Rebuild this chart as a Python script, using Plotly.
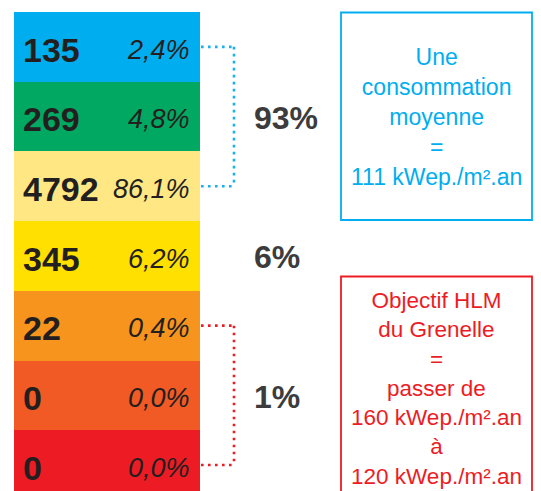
import plotly.graph_objects as go

# ---- data ----
classes = ["A", "B", "C", "D", "E", "F", "G"]
logements = [135, 269, 4792, 345, 22, 0, 0]
parts = [2.4, 4.8, 86.1, 6.2, 0.4, 0.0, 0.0]
group_labels = ["93%", "6%", "1%"]
group_first = [0, 3, 4]
group_last = [2, 3, 6]
box_blue_lines = ["Une", "consommation", "moyenne", "=", "111 kWep./m².an"]
box_red_lines = ["Objectif HLM", "du Grenelle", "=", "passer de",
                 "160 kWep./m².an", "à", "120 kWep./m².an"]

# ---- style ----
bar_colors = ["#00AEEF", "#00A862", "#FFE784", "#FFE000", "#F7941D", "#F15A24", "#ED1C24"]
bracket_colors = ["#1AB0EC", None, "#ED1C24"]
OFF = 8  # page body margin
W, H = 541 - OFF, 491 - OFF
FONT = "Liberation Sans, Arial, sans-serif"
DARK = "#231F20"


def px(x):
    return (x - OFF) / W


def py(y):
    return 1 - (y - OFF) / H


fig = go.Figure()
fig.add_trace(go.Bar(
    y=classes, x=[1] * len(classes), orientation="h",
    marker=dict(color=bar_colors, line=dict(width=0)),
    width=1, hoverinfo="skip", showlegend=False,
))


def fmt_pct(v):
    return f"{v:.1f}".replace(".", ",") + "%"


annotations = []
for i, c in enumerate(classes):
    annotations.append(dict(
        x=px(21), xref="paper", y=i + 0.04, yref="y", xanchor="left", yanchor="middle",
        text=f"<b>{logements[i]}</b>", showarrow=False,
        font=dict(family=FONT, size=34, color=DARK)))
    annotations.append(dict(
        x=px(192), xref="paper", y=i + 0.04, yref="y", xanchor="right", yanchor="middle",
        text=f"<i>{fmt_pct(parts[i])}</i>", showarrow=False,
        font=dict(family=FONT, size=27, color=DARK)))

shapes = []
bx = px(234)
for lab, a, b, col in zip(group_labels, group_first, group_last, bracket_colors):
    annotations.append(dict(
        x=px(252), xref="paper", y=(a + b) / 2 + 0.02, yref="y", xanchor="left", yanchor="middle",
        text=f"<b>{lab}</b>", showarrow=False,
        font=dict(family=FONT, size=32, color="#3C3C3C")))
    if col is not None and b > a:
        line = dict(color=col, width=2.6, dash="2.6px,4.4px")
        shapes.append(dict(type="line", xref="paper", yref="y",
                           x0=px(201), x1=bx, y0=a, y1=a, line=line))
        shapes.append(dict(type="line", xref="paper", yref="y",
                           x0=bx, x1=bx, y0=a, y1=b, line=line))
        shapes.append(dict(type="line", xref="paper", yref="y",
                           x0=px(201), x1=bx, y0=b, y1=b, line=line))

# boxes
shapes.append(dict(type="rect", xref="paper", yref="paper",
                   x0=px(341), x1=px(532), y0=py(220), y1=py(12.5),
                   line=dict(color="#00AEEF", width=1.8)))
shapes.append(dict(type="rect", xref="paper", yref="paper",
                   x0=px(341), x1=px(532), y0=-0.05, y1=py(276.5),
                   line=dict(color="#ED1C24", width=1.8)))

annotations.append(dict(
    x=px(436.5), xref="paper", y=py(117), yref="paper", xanchor="center", yanchor="middle",
    text="<br>".join(box_blue_lines), showarrow=False, align="center",
    font=dict(family=FONT, size=23, color="#00AEEF")))
annotations.append(dict(
    x=px(436.5), xref="paper", y=py(388), yref="paper", xanchor="center", yanchor="middle",
    text="<br>".join(box_red_lines), showarrow=False, align="center",
    font=dict(family=FONT, size=22.5, color="#ED1C24")))

fig.update_layout(
    width=W, height=H,
    margin=dict(l=0, r=0, t=0, b=0),
    paper_bgcolor="white", plot_bgcolor="white",
    bargap=0,
    xaxis=dict(domain=[px(14), px(200)], range=[0, 1], visible=False, fixedrange=True),
    yaxis=dict(domain=[0, py(12)], range=[(H - (12 - OFF)) / 69.7 - 0.5 + 0.0, -0.5],
               visible=False, type="category", fixedrange=True),
    annotations=annotations,
    shapes=shapes,
    showlegend=False,
)

fig.write_html("out.html", config={"displayModeBar": False})
